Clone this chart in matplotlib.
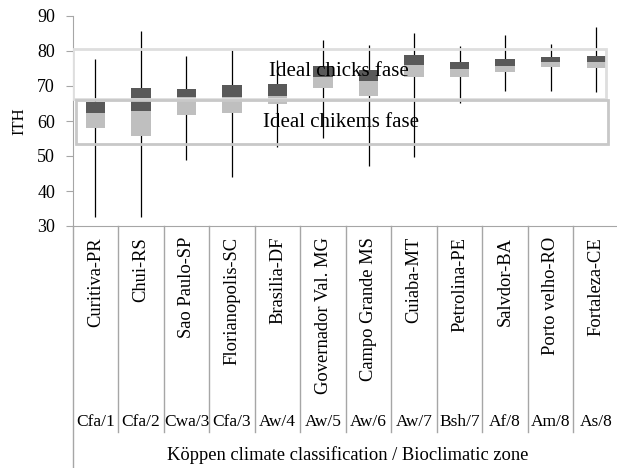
import numpy as np
import matplotlib
matplotlib.use("Agg")
import matplotlib.pyplot as plt
from matplotlib.patches import Rectangle

plt.rcParams['font.family'] = ['Liberation Serif', 'DejaVu Serif']

# datos
cidades = ['Curitiva-PR', 'Chui-RS', 'Sao Paulo-SP', 'Florianopolis-SC', 'Brasilia-DF',
           'Governador Val. MG', 'Campo Grande MS', 'Cuiaba-MT', 'Petrolina-PE',
           'Salvdor-BA', 'Porto velho-RO', 'Fortaleza-CE']
zonas = ['Cfa/1', 'Cfa/2', 'Cwa/3', 'Cfa/3', 'Aw/4', 'Aw/5', 'Aw/6', 'Aw/7',
         'Bsh/7', 'Af/8', 'Am/8', 'As/8']
minimo = [32.5, 32.7, 48.9, 44.1, 52.7, 55.0, 47.2, 49.8, 65.2, 68.7, 68.7, 68.4]
q1 = [57.9, 55.8, 61.7, 62.2, 64.9, 69.3, 67.1, 72.6, 72.7, 73.9, 75.5, 75.2]
mediana = [62.2, 63.0, 66.9, 67.0, 67.2, 72.5, 71.3, 75.9, 74.8, 75.7, 76.8, 76.9]
q3 = [65.5, 69.3, 69.0, 70.3, 70.5, 75.7, 74.6, 78.9, 76.9, 77.6, 78.4, 78.7]
maximo = [77.6, 85.7, 78.6, 80.3, 77.4, 83.1, 81.7, 85.0, 81.4, 84.6, 81.9, 86.9]

# faixas ideais (ITH)
faixa_pintos = (66.4, 80.7)
faixa_frangos = (53.4, 66.0)

fig = plt.figure(figsize=(6.17, 4.68), dpi=100)
ax = fig.add_axes([72.7 / 617, 242 / 468, 544.3 / 617, 210 / 468])

x = np.arange(len(cidades))
cinza = '#a6a6a6'

ax.vlines(x, minimo, maximo, color='black', lw=0.9, zorder=2)
ax.bar(x, np.array(mediana) - np.array(q1), bottom=q1, width=0.42, color='#bfbfbf', zorder=3)
ax.bar(x, np.array(q3) - np.array(mediana), bottom=mediana, width=0.42, color='#595959', zorder=3)

ax.add_patch(Rectangle((-0.5, faixa_pintos[0]), 11.72, faixa_pintos[1] - faixa_pintos[0],
                       fill=False, ec='#dedede', lw=2.0, zorder=4))
ax.add_patch(Rectangle((-0.43, faixa_frangos[0]), 11.69, faixa_frangos[1] - faixa_frangos[0],
                       fill=False, ec='#c8c8c8', lw=2.0, zorder=4))
ax.text(5.35, 74, 'Ideal chicks fase', fontsize=15, ha='center', va='center', zorder=5)
ax.text(5.4, 59.6, 'Ideal chikems fase', fontsize=15, ha='center', va='center', zorder=5)

ax.set_xlim(-0.5, 11.46)
ax.set_ylim(30, 90)
ax.set_yticks(range(30, 91, 10))
ax.set_xticks([])
ax.tick_params(axis='y', length=5, color=cinza, pad=7.7, labelsize=13)
ax.set_ylabel('ITH', fontsize=12)
ax.yaxis.set_label_coords(-0.083, 0.5)
for s in ['top', 'right']:
    ax.spines[s].set_visible(False)
for s in ['left', 'bottom']:
    ax.spines[s].set_color(cinza)

# tabela das categorias
tr = ax.get_xaxis_transform()
for b in np.arange(-0.5, 12):
    fim = -1.16 if b < 0 else -0.981
    ax.plot([b, b], [0, fim], color=cinza, lw=1, transform=tr, clip_on=False)
for i in x:
    ax.text(i, -0.052, cidades[i], rotation=90, ha='center', va='top', fontsize=13.3, transform=tr)
    ax.text(i, -0.935, zonas[i], ha='center', va='center', fontsize=12.5, transform=tr)
ax.text(0.505, -1.09, 'Köppen climate classification / Bioclimatic zone', ha='center', va='center',
        fontsize=13.3, transform=ax.transAxes)

fig.savefig('out.png', dpi=100)
